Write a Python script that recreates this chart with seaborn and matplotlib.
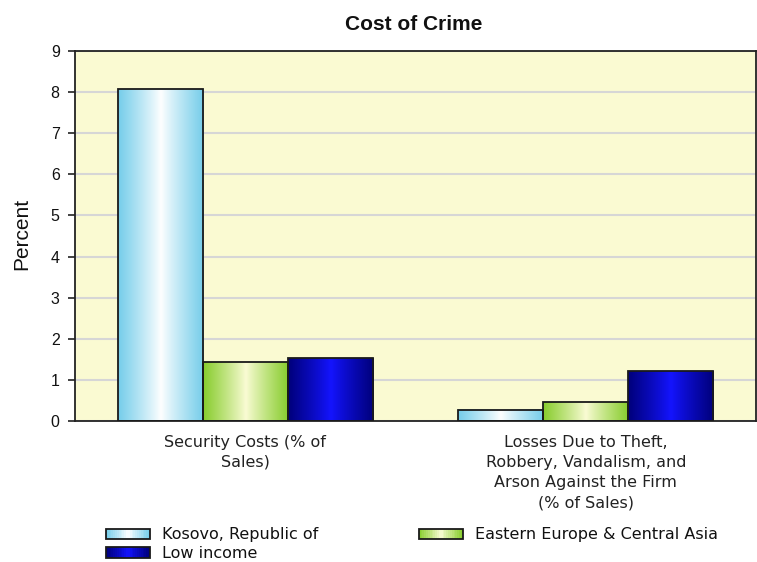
import numpy as np
import pandas as pd
import matplotlib
matplotlib.use("Agg")
import matplotlib.pyplot as plt
import seaborn as sns
from matplotlib.patches import Rectangle
from matplotlib.legend_handler import HandlerBase
from matplotlib.colors import to_rgb
from matplotlib.font_manager import FontProperties

# ---- data ----
categories = ["Security Costs (% of\nSales)",
              "Losses Due to Theft,\nRobbery, Vandalism, and\nArson Against the Firm\n(% of Sales)"]
series = ["Kosovo, Republic of", "Eastern Europe & Central Asia", "Low income"]
kosovo = [8.07, 0.27]
eeca = [1.43, 0.46]
low_income = [1.53, 1.21]
y_ticks = [0, 1, 2, 3, 4, 5, 6, 7, 8, 9]

values = [kosovo, eeca, low_income]
rows = []
for s, vals in zip(series, values):
    for c, v in zip(categories, vals):
        rows.append({"category": c, "series": s, "value": v})
df = pd.DataFrame(rows)

# gradient styles: (edge colour, centre colour)
grad_styles = {
    "Kosovo, Republic of": ("#74cdea", "#ffffff"),
    "Eastern Europe & Central Asia": ("#86cc2c", "#fbfcd6"),
    "Low income": ("#00007a", "#1414ff"),
}


def grad_color(edge, center, t):
    e = np.array(to_rgb(edge))
    c = np.array(to_rgb(center))
    d = min(1.0, abs(t - 0.5) * 2)
    d = d ** 0.9
    return tuple(c * (1 - d) + e * d)


sns.set_theme(style="white")
plt.rcParams["font.family"] = ["Liberation Sans", "DejaVu Sans"]

fp_tick = FontProperties(family="Liberation Sans", size=11.5)
fp_xlab = FontProperties(family="DejaVu Sans", size=11.5)
fp_leg = FontProperties(family="DejaVu Sans", size=11.5)
fp_title = FontProperties(family="Liberation Sans", size=15, weight="bold")
fp_ylab = FontProperties(family="Liberation Sans", size=15)

fig = plt.figure(figsize=(7.57, 5.62), dpi=100)
ax = fig.add_axes([75 / 757, 141 / 562, 681 / 757, 370 / 562])
ax.set_facecolor("#fafad2")

palette = {s: grad_styles[s][0] for s in series}
sns.barplot(data=df, x="category", y="value", hue="series", hue_order=series,
            order=categories, width=0.75, gap=0, palette=palette,
            saturation=1, edgecolor="#1a1a1a", linewidth=1.3, ax=ax,
            legend=False)

# gradient fills
N = 64
for cont, s in zip(ax.containers, series):
    edge, center = grad_styles[s]
    img = np.array([[grad_color(edge, center, (k + 0.5) / N) for k in range(N)]])
    for bar in cont:
        x0, w, h = bar.get_x(), bar.get_width(), bar.get_height()
        bar.set_facecolor("none")
        bar.set_zorder(3)
        ax.imshow(img, extent=[x0, x0 + w, 0, h], aspect="auto",
                  interpolation="bilinear", zorder=2.5)

ax.set_xlim(-0.5, 1.5)
ax.set_ylim(0, 9)
ax.yaxis.grid(True, color="#d6d6d6", linewidth=1.5)
ax.set_axisbelow(True)
for sp in ax.spines.values():
    sp.set_color("#222222")
    sp.set_linewidth(1.3)

ax.tick_params(axis="y", left=True, length=5, width=1.2, color="#222222",
               pad=6, labelcolor="#111111")
ax.tick_params(axis="x", bottom=False, length=0, pad=10,
               labelcolor="#222222")
ax.set_xticks(range(len(categories)))
ax.set_xticklabels(categories, fontproperties=fp_xlab, linespacing=1.42,
                   va="top")
ax.set_yticks(y_ticks)
ax.set_yticklabels([str(v) for v in y_ticks], fontproperties=fp_tick)

ax.set_xlabel("")
ax.set_ylabel("")
fig.text(22 / 757, 1 - 234 / 562, "Percent", rotation=90, ha="center",
         va="center", fontproperties=fp_ylab, color="#111111")

fig.text(414 / 757, 1 - 25 / 562, "Cost of Crime", ha="center", va="center",
         fontproperties=fp_title, color="#111111")


# legend with gradient swatches
class GradHandler(HandlerBase):
    def __init__(self, edge, center):
        super().__init__()
        self.edge = edge
        self.center = center

    def create_artists(self, legend, orig_handle, xdescent, ydescent,
                       width, height, fontsize, trans):
        n = 24
        arts = []
        for k in range(n):
            c = grad_color(self.edge, self.center, (k + 0.5) / n)
            arts.append(Rectangle((-xdescent + k * width / n, -ydescent),
                                  width / n + 0.3, height, facecolor=c,
                                  edgecolor="none", transform=trans))
        arts.append(Rectangle((-xdescent, -ydescent), width, height,
                              fill=False, edgecolor="#1a1a1a", linewidth=1.3,
                              transform=trans))
        return arts


handles = {s: Rectangle((0, 0), 1, 1) for s in series}
order = ["Kosovo, Republic of", "Low income", "Eastern Europe & Central Asia"]
hmap = {handles[s]: GradHandler(*grad_styles[s]) for s in series}
fig.legend(handles=[handles[s] for s in order], labels=order, ncol=2,
           loc="upper left", bbox_to_anchor=(106 / 757, 1 - 527.5 / 562),
           frameon=False, handlelength=2.75, handleheight=0.64,
           handletextpad=0.75, columnspacing=6.3, labelspacing=0.22,
           borderpad=0, borderaxespad=0, handler_map=hmap,
           prop=fp_leg, labelcolor="#111111")

fig.savefig("out.png", dpi=100)
